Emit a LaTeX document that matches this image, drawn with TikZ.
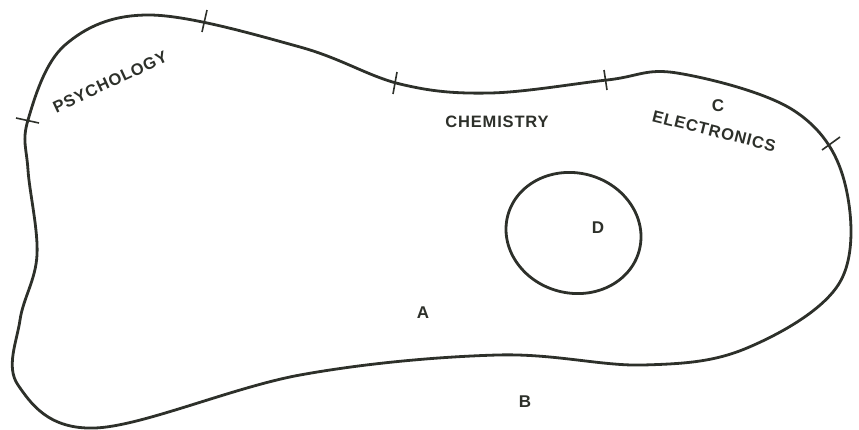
\documentclass[tikz,border=0pt]{standalone}
\usepackage{fontspec}
\setmainfont{Liberation Sans}
\definecolor{ink}{RGB}{45,48,42}
\begin{document}
\begin{tikzpicture}[x=1pt,y=-1pt,thick]
  \tikzstyle{outline}=[draw=ink, line width=2.8pt, line join=round]
  \tikzstyle{tick}=[draw=ink, line width=1.6pt]
  \tikzstyle{field}=[text=ink, font=\fontsize{16.5}{18}\selectfont\bfseries\addfontfeature{LetterSpace=5}, inner sep=0pt]
  \tikzstyle{letter}=[text=ink, font=\fontsize{17}{19}\selectfont\bfseries, inner sep=0pt]
  \useasboundingbox (0,0) rectangle (859,429);

  % Outer region
  \draw[outline] plot[smooth cycle, tension=0.6] coordinates {
    (28,120) (65,45) (150,15) (300,47) (400,84) (490,93) (607,80)
    (677,73) (793,110) (844,180) (840,282) (747,348) (643,365)
    (497,355) (300,375) (95,428) (18,385) (20,320) (37,255) (28,170)};

  % Inner region D
  \draw[outline] (573.5,233) ellipse [x radius=68, y radius=60, rotate=-15];

  % Boundary marks
  \draw[tick] (16,118) -- (39,123);
  \draw[tick] (202,32) -- (207,10);
  \draw[tick] (393,94) -- (397,72);
  \draw[tick] (607,90) -- (604,70);
  \draw[tick] (822,150) -- (840,137);

  % Labels
  \node[field, rotate=25] (psych) at (110,82) {PSYCHOLOGY};
  \node[field] (chem) at (497,122) {CHEMISTRY};
  \node[field, rotate=-14] (elec) at (714,131) {ELECTRONICS};
  \node[letter] (regC) at (718,106) {C};
  \node[letter] (regD) at (598,228) {D};
  \node[letter] (regA) at (423,313) {A};
  \node[letter] (regB) at (525,402) {B};
\end{tikzpicture}
\end{document}
